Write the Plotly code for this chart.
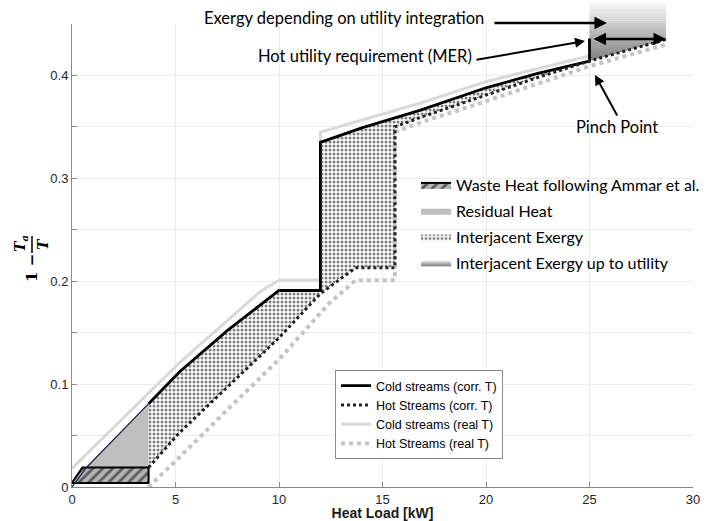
import plotly.graph_objects as go

# ---------------- data ----------------
cold_x = [0, 0.7, 3.7, 5.2, 7.5, 10, 12, 12, 14, 16.8, 20, 22.5, 25, 25]
cold_y = [0, 0.019, 0.081, 0.112, 0.152, 0.191, 0.191, 0.335, 0.349, 0.366, 0.388, 0.402, 0.414, 0.436]

hot_x = [3.7, 5.2, 7.5, 10, 12, 13.7, 15.6, 15.6, 16.8, 20, 22.5, 25, 28.7]
hot_y = [0.019, 0.053, 0.097, 0.145, 0.188, 0.213, 0.213, 0.35, 0.359, 0.381, 0.398, 0.414, 0.435]

cold_real_x = [0, 3.7, 5.2, 9.1, 10, 12, 12, 16.8, 20, 25]
cold_real_y = [0.018, 0.091, 0.121, 0.19, 0.201, 0.201, 0.345, 0.373, 0.394, 0.419]

hot_real_x = [3.7, 5.2, 7.5, 10, 12.4, 13.7, 15.6, 15.6, 16.8, 20, 25, 28.7]
hot_real_y = [0.0, 0.029, 0.075, 0.124, 0.178, 0.201, 0.201, 0.345, 0.354, 0.375, 0.409, 0.43]

waste_x = [0, 0.5, 3.7, 3.7, 0]
waste_y = [0.004, 0.019, 0.019, 0.004, 0.004]

x_ticks = [0, 5, 10, 15, 20, 25, 30]
y_ticks = [0, 0.05, 0.1, 0.15, 0.2, 0.25, 0.3, 0.35, 0.4, 0.45]
y_ticktext = ["0", "", "0.1", "", "0.2", "", "0.3", "", "0.4", ""]
X_MAX, Y_MAX = 30, 0.45

# ---------------- derived regions ----------------
x_split = 3.7
x_pinch = 25
res_pts = [(x, y) for x, y in zip(cold_x, cold_y) if 0.7 <= x <= x_split]
resid_x = [p[0] for p in res_pts] + [x_split, res_pts[0][0]]
resid_y = [p[1] for p in res_pts] + [waste_y[1], res_pts[0][1]]

c_seg = [(x, y) for x, y in zip(cold_x[:-1], cold_y[:-1]) if x_split <= x <= x_pinch]
h_seg = [(x, y) for x, y in zip(hot_x, hot_y) if x <= x_pinch]
inter_x = [p[0] for p in c_seg] + [p[0] for p in h_seg[::-1]]
inter_y = [p[1] for p in c_seg] + [p[1] for p in h_seg[::-1]]

u_seg = [(x, y) for x, y in zip(hot_x, hot_y) if x >= x_pinch]
util_x = [p[0] for p in u_seg] + [u_seg[-1][0], u_seg[0][0], u_seg[0][0]]
util_y = [p[1] for p in u_seg] + [Y_MAX, Y_MAX, u_seg[0][1]]

# ---------------- layout helpers ----------------
L, R, T, B = 72, 14, 24, 34
W, H = 707, 521
PW, PH = W - L - R, H - T - B


def px(xp):
    return (xp - L) / PW


def py(yp):
    return (H - B - yp) / PH


fig = go.Figure()

fig.add_trace(go.Scatter(
    x=util_x, y=util_y, mode="lines", fill="toself", line=dict(width=0),
    fillgradient=dict(type="vertical", colorscale=[[0, "#7a7a7a"], [1, "#f6f6f6"]],
                      start=0.412, stop=0.47),
    name="Interjacent Exergy up to utility", legend="legend2", legendrank=4,
    legendgroup="g4", hoverinfo="skip"))
fig.add_trace(go.Scatter(
    x=inter_x, y=inter_y, mode="lines", fill="toself", line=dict(width=0),
    fillcolor="white",
    fillpattern=dict(shape=".", fgcolor="black", bgcolor="white", size=4, solidity=0.45),
    name="Interjacent Exergy", legend="legend2", legendrank=3, legendgroup="g3",
    hoverinfo="skip"))
fig.add_trace(go.Scatter(
    x=resid_x, y=resid_y, mode="lines", fill="toself", line=dict(width=0),
    fillcolor="#bfbfbf", name="Residual Heat", legend="legend2", legendrank=2,
    legendgroup="g2", hoverinfo="skip"))
fig.add_trace(go.Scatter(
    x=waste_x, y=waste_y, mode="lines", fill="toself", line=dict(width=2, color="black"),
    fillpattern=dict(shape="/", fgcolor="black", bgcolor="#b5b5b5", size=7, solidity=0.4),
    name="Waste Heat following Ammar et al.", legend="legend2", legendrank=1,
    legendgroup="g1", hoverinfo="skip"))

fig.add_trace(go.Scatter(x=cold_real_x, y=cold_real_y, mode="lines",
                         line=dict(color="#d9d9d9", width=3),
                         name="Cold streams (real T)", legendrank=3))
fig.add_trace(go.Scatter(x=hot_real_x, y=hot_real_y, mode="lines",
                         line=dict(color="#c4c4c4", width=4, dash="dot"),
                         name="Hot Streams (real T)", legendrank=4))
thin_idx = [i for i, x in enumerate(cold_x) if x <= x_split]
thick_idx = [i for i, x in enumerate(cold_x) if x >= x_split]
fig.add_trace(go.Scatter(x=[cold_x[i] for i in thin_idx], y=[cold_y[i] for i in thin_idx],
                         mode="lines", line=dict(color="#1c2540", width=1.3),
                         showlegend=False, hoverinfo="skip"))
fig.add_trace(go.Scatter(x=[cold_x[i] for i in thick_idx], y=[cold_y[i] for i in thick_idx],
                         mode="lines", line=dict(color="black", width=2.8),
                         name="Cold streams (corr. T)", legendrank=1))
fig.add_trace(go.Scatter(x=hot_x, y=hot_y, mode="lines",
                         line=dict(color="#222", width=3, dash="dot"),
                         name="Hot Streams (corr. T)", legendrank=2))

shapes = []
n_bands = 12
y_lo, y_hi = Y_MAX, 0.4705
for k in range(n_bands):
    ya = y_lo + (y_hi - y_lo) * k / n_bands
    yb = y_lo + (y_hi - y_lo) * (k + 1) / n_bands
    f = ((ya + yb) / 2 - 0.412) / (0.47 - 0.412)
    g = int(round(0x7a + (0xf6 - 0x7a) * min(max(f, 0), 1)))
    shapes.append(dict(type="rect", xref="x", yref="paper", x0=util_x[0], x1=util_x[1],
                       y0=ya / Y_MAX, y1=yb / Y_MAX, line=dict(width=0),
                       fillcolor=f"rgb({g},{g},{g})", layer="below"))
shapes.append(dict(type="line", xref="paper", yref="paper", x0=px(32), x1=px(32),
                   y0=py(236), y1=py(253), line=dict(color="black", width=1.5)))

ann_font = dict(family="Lato", size=16.5, color="black")
P = dict(xref="paper", yref="paper")
annotations = [
    dict(text="Exergy depending on utility integration", x=px(202), y=py(18),
         xanchor="left", yanchor="middle", showarrow=False, font=ann_font, **P),
    dict(text="", x=px(607), y=py(23), ax=-114, ay=0, showarrow=True,
         arrowhead=2, arrowsize=1, arrowwidth=2.5, arrowcolor="black", **P),
    dict(text="Hot utility requirement (MER)", x=px(256), y=py(56),
         xanchor="left", yanchor="middle", showarrow=False, font=ann_font, **P),
    dict(text="", x=px(585), y=py(41), ax=-110, ay=19, showarrow=True,
         arrowhead=2, arrowsize=1, arrowwidth=2, arrowcolor="black", **P),
    dict(text="", x=px(666), y=py(39), ax=-74, ay=0, showarrow=True,
         arrowhead=2, startarrowhead=2, arrowside="end+start", arrowsize=1,
         arrowwidth=2.5, arrowcolor="black", **P),
    dict(text="Pinch Point", x=px(617), y=py(127), xanchor="center", yanchor="middle",
         showarrow=False, font=ann_font, **P),
    dict(text="", x=px(595), y=py(75), ax=23, ay=42, showarrow=True,
         arrowhead=2, arrowsize=1, arrowwidth=2, arrowcolor="black", **P),
    dict(text="<b>1 −</b>", x=px(32), y=py(268), textangle=-90, showarrow=False,
         xanchor="center", yanchor="middle",
         font=dict(family="DejaVu Serif", size=15, color="black"), **P),
    dict(text="<b><i>T<sub>a</sub></i></b>", x=px(21), y=py(244), textangle=-90,
         showarrow=False, xanchor="center", yanchor="middle",
         font=dict(family="DejaVu Serif", size=14, color="black"), **P),
    dict(text="<b><i>T</i></b>", x=px(43), y=py(244), textangle=-90,
         showarrow=False, xanchor="center", yanchor="middle",
         font=dict(family="DejaVu Serif", size=14, color="black"), **P),
]

tick_font = dict(family="Liberation Sans", size=13, color="#262626")
fig.update_layout(
    width=W, height=H, margin=dict(l=L, r=R, t=T, b=B, autoexpand=False),
    paper_bgcolor="white", plot_bgcolor="white",
    shapes=shapes, annotations=annotations,
    xaxis=dict(range=[0, X_MAX], tickvals=x_ticks, showgrid=True, gridcolor="#ececec",
               gridwidth=1, zeroline=False, showline=True, linecolor="#8a8a8a",
               ticks="inside", ticklen=5, tickcolor="#8a8a8a", tickfont=tick_font,
               title=dict(text="<b>Heat Load [kW]</b>", standoff=5,
                          font=dict(family="Liberation Sans", size=14, color="#1a1a1a"))),
    yaxis=dict(range=[0, Y_MAX], tickvals=y_ticks, ticktext=y_ticktext, showgrid=True,
               gridcolor="#ececec", gridwidth=1, zeroline=False, showline=True,
               linecolor="#8a8a8a", ticks="inside", ticklen=5, tickcolor="#8a8a8a",
               tickfont=tick_font),
    legend=dict(x=px(335), y=py(370), xanchor="left", yanchor="top",
                bgcolor="white", bordercolor="#8a8a8a", borderwidth=1,
                font=dict(family="Liberation Sans", size=12.5, color="black"),
                itemwidth=30, tracegroupgap=0),
    legend2=dict(x=px(416), y=py(168), xanchor="left", yanchor="top",
                 bgcolor="rgba(255,255,255,0)", borderwidth=0,
                 font=dict(family="Lato", size=16, color="black"),
                 itemwidth=30, tracegroupgap=2),
    showlegend=True,
)

fig.write_html("out.html", config={"displayModeBar": False},
               post_script="document.body.style.margin='0px';")
